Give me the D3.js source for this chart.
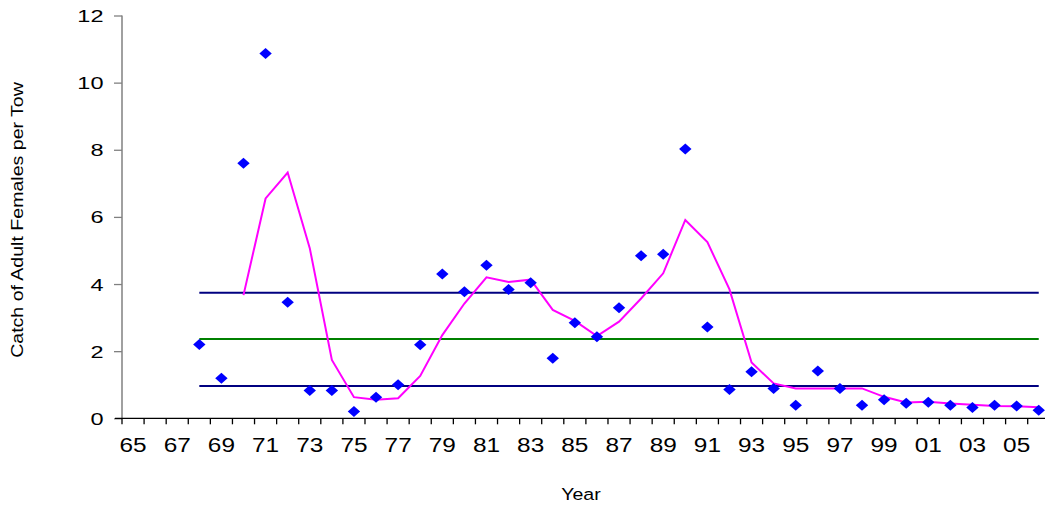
<!DOCTYPE html>
<html><head><meta charset="utf-8">
<script src="https://cdn.jsdelivr.net/npm/d3@7"></script>
<style>
html,body{margin:0;padding:0;background:#fff;}
svg{display:block;font-family:Arial,"Liberation Sans",sans-serif;}
</style></head>
<body>
<svg id="chart" width="1045" height="508"></svg>
<script>
// Categories (survey years)
const categories = ["65","66","67","68","69","70","71","72","73","74","75","76","77","78","79","80","81","82","83","84","85","86","87","88","89","90","91","92","93","94","95","96","97","98","99","00","01","02","03","04","05","06"];
// Annual catch of adult females per tow (diamonds)
const catchYears = ["68","69","70","71","72","73","74","75","76","77","78","79","80","81","82","83","84","85","86","87","88","89","90","91","92","93","94","95","96","97","98","99","00","01","02","03","04","05","06"];
const catchValues = [2.20,1.19,7.60,10.87,3.46,0.83,0.83,0.20,0.63,1.00,2.19,4.30,3.77,4.56,3.84,4.04,1.79,2.85,2.43,3.29,4.84,4.89,8.02,2.72,0.86,1.39,0.89,0.39,1.41,0.89,0.39,0.55,0.45,0.48,0.39,0.32,0.39,0.37,0.24];
// Running average (magenta line)
const avgYears = ["70","71","72","73","74","75","76","77","78","79","80","81","82","83","84","85","86","87","88","89","90","91","92","93","94","95","96","97","98","99","00","01","02","03","04","05","06"];
const avgValues = [3.67,6.55,7.32,5.07,1.74,0.63,0.55,0.60,1.26,2.48,3.42,4.20,4.06,4.13,3.23,2.90,2.45,2.88,3.57,4.32,5.91,5.25,3.84,1.66,1.04,0.89,0.89,0.89,0.89,0.64,0.47,0.49,0.44,0.40,0.37,0.36,0.33];
// Reference levels
const refNames = ["upper","mean","lower"];
const refValues = [3.74,2.36,0.96];
const refColors = ["#000080","#008000","#000080"];
const yTicks = [0,2,4,6,8,10,12];

const svg = d3.select("#chart");
const left = 122, bandW = 22.09;
const x = d3.scaleBand().domain(categories).range([left, left + bandW*categories.length]).padding(0);
const y = d3.scaleLinear().domain([0,12]).range([418.3, 15.5]);
const xc = c => x(c) + x.bandwidth()/2;

// reference lines
refValues.forEach((v,i)=>{
  svg.append("line")
    .attr("x1", xc(catchYears[0])).attr("x2", xc(catchYears[catchYears.length-1]))
    .attr("y1", y(v)).attr("y2", y(v))
    .attr("stroke", refColors[i]).attr("stroke-width", 2);
});

// y axis
const yAxis = svg.append("g").attr("transform",`translate(${left},0)`)
  .call(d3.axisLeft(y).tickValues(yTicks).tickSize(8).tickPadding(0).tickFormat(d3.format("d")));
yAxis.select(".domain").attr("stroke","#808080").attr("stroke-width",1.5).attr("d",`M0,${y(12)}V${y(0)}`);
yAxis.selectAll(".tick line").attr("stroke","#808080").attr("stroke-width",1.3);
yAxis.selectAll(".tick text")
  .attr("x",0).attr("dy","0.36em")
  .attr("transform","translate(-18.5,0) scale(1.4,1)")
  .attr("font-size","16.8px").attr("fill","#000").attr("font-family","Arial, 'Liberation Sans', sans-serif");

// x axis
const xAxis = svg.append("g").attr("transform",`translate(0,${y(0)})`)
  .call(d3.axisBottom(x).tickSize(0).tickPadding(0).tickFormat((d,i)=> i%2===0 ? d : ""));
xAxis.select(".domain").attr("stroke","#000").attr("stroke-width",1.3).attr("d",`M${left-7},0H1045`);
xAxis.selectAll(".tick text")
  .attr("y",20).attr("dy","0.72em")
  .attr("transform","scale(1.25,1)")
  .attr("font-size","19.5px").attr("fill","#000").attr("font-family","Arial, 'Liberation Sans', sans-serif");
// boundary tick marks
xAxis.selectAll("line.bound").data(categories).join("line").attr("class","bound")
  .attr("x1", d=>x(d)).attr("x2", d=>x(d)).attr("y1",0).attr("y2",6)
  .attr("stroke","#000").attr("stroke-width",1.3);

// magenta average line
svg.append("path")
  .datum(avgYears.map((c,i)=>[xc(c), y(avgValues[i])]))
  .attr("d", d3.line())
  .attr("fill","none").attr("stroke","#FF00FF").attr("stroke-width",2);

// diamonds
svg.append("g").selectAll("path").data(catchYears).join("path")
  .attr("transform",(c,i)=>`translate(${xc(c)},${y(catchValues[i])})`)
  .attr("d","M0,-5.5L6.2,0L0,5.5L-6.2,0Z")
  .attr("fill","#0000FF");

// axis titles
svg.append("text").attr("transform","translate(581,500) scale(1.2,1)")
  .attr("text-anchor","middle").attr("font-size","16.3px").attr("fill","#000").text("Year");
svg.append("text").attr("transform","translate(23,220) rotate(-90) scale(1.2,1)")
  .attr("text-anchor","middle").attr("font-size","16.3px").attr("fill","#000").text("Catch of Adult Females per Tow");
</script>
</body></html>
